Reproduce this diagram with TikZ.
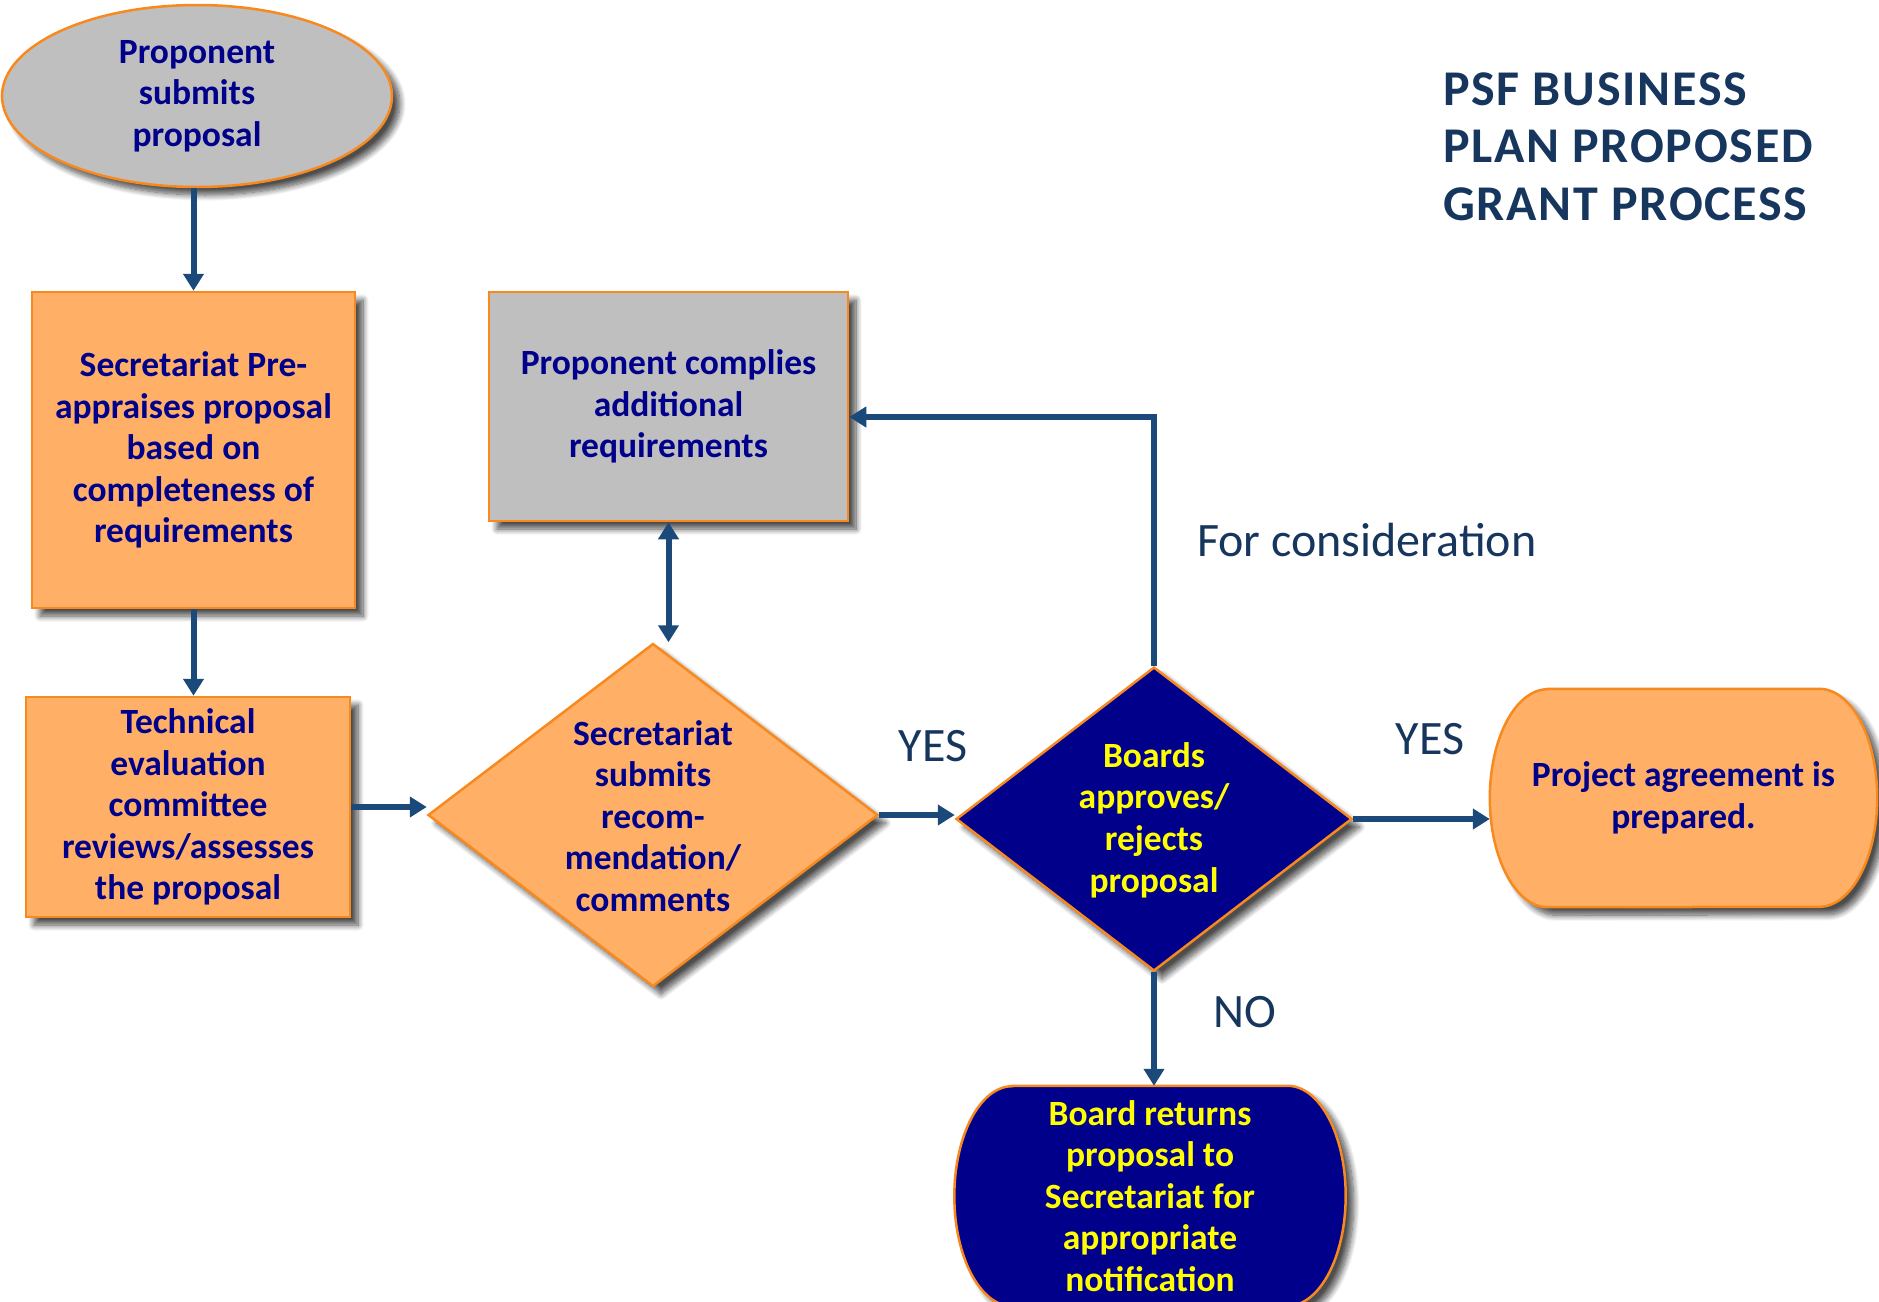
\documentclass[tikz,border=0pt]{standalone}
\usepackage{fontspec}
\setmainfont{Carlito}
\newfontfamily\titlefont[LetterSpace=3.5]{Carlito}
\usetikzlibrary{shapes.geometric,arrows.meta,shadows.blur,calc,backgrounds}
\definecolor{orfill}{HTML}{FFB066}
\definecolor{orline}{HTML}{F7891F}
\definecolor{grfill}{HTML}{BFBFBF}
\definecolor{navytxt}{HTML}{00008B}
\definecolor{navyfill}{HTML}{00008B}
\definecolor{arrowc}{HTML}{1B4A7A}
\definecolor{titlec}{HTML}{17365D}
\definecolor{yel}{HTML}{FFFF00}
\tikzset{
  shad/.style={blur shadow={shadow xshift=8pt, shadow yshift=-8pt, shadow blur radius=6pt, shadow blur steps=10, shadow opacity=70}},
  boxline/.style={draw=orline, line width=2.5pt},
  btext/.style={font=\fontsize{35.5}{41.6}\selectfont\bfseries, text=navytxt, align=center, inner sep=0pt},
  ytext/.style={font=\fontsize{35.5}{41.6}\selectfont\bfseries, text=yel, align=center, inner sep=0pt},
  orbox/.style={rectangle, boxline, fill=orfill, shad, btext},
  grbox/.style={rectangle, boxline, fill=grfill, shad, btext},
  ordiam/.style={diamond, boxline, fill=orfill, shad, inner sep=0pt},
  nvdiam/.style={diamond, boxline, fill=navyfill, shad, inner sep=0pt},
  lbl/.style={font=\fontsize{48}{56}\selectfont, text=titlec, inner sep=0pt},
  arr/.style={draw=arrowc, line width=6pt, -{Triangle[width=20pt,length=17pt]}},
  darr/.style={draw=arrowc, line width=6pt, {Triangle[width=20pt,length=17pt]}-{Triangle[width=20pt,length=17pt]}},
}
\begin{document}
\begin{tikzpicture}[x=1pt,y=-1pt]
\useasboundingbox (0,0) rectangle (1879,1301);
\clip (0,0) rectangle (1879,1301);

% title
\node[font=\titlefont\fontsize{50}{57.5}\selectfont\bfseries, text=titlec, align=left, anchor=base west, inner sep=0pt] (title) at (1443,220)
  {PSF BUSINESS\\PLAN PROPOSED\\GRANT PROCESS};

% nodes
\node[ellipse, boxline, fill=grfill, shad, btext, minimum width=390pt, minimum height=182pt] (ell) at (197,96)
  {Proponent\\submits\\proposal};
\node[orbox, minimum width=323pt, minimum height=316pt] (r1) at (193.5,450)
  {Secretariat Pre-\\appraises proposal\\based on\\completeness of\\requirements};
\node[orbox, minimum width=324pt, minimum height=220pt] (r2) at (188,807)
  {Technical\\evaluation\\committee\\reviews/assesses\\the proposal};
\node[grbox, minimum width=359pt, minimum height=229pt] (comply) at (668.5,406.5)
  {Proponent complies\\additional\\requirements};
\node[ordiam, minimum width=450pt, minimum height=343pt] (d1) at (653,815) {};
\node[btext] (d1t) at (653,816) {Secretariat\\submits\\recom-\\mendation/\\comments};
\node[nvdiam, minimum width=396pt, minimum height=304pt] (d2) at (1154,819) {};
\node[ytext] (d2t) at (1154,820) {Boards\\approves/\\rejects\\proposal};

\node[btext, minimum width=387pt, minimum height=218pt] (term) at (1683.5,798)
  {Project agreement is\\prepared.};
\node[ytext, minimum width=391pt, minimum height=220pt] (board) at (1150,1196)
  {Board returns\\proposal to\\Secretariat for\\appropriate\\notification};

\begin{scope}[on background layer]
\path[boxline, fill=orfill, shad]
  ($(term.north west)+(58,0)$) -- ($(term.north east)+(-58,0)$)
  arc[start angle=90, end angle=-90, x radius=58pt, y radius=109pt]
  -- ($(term.south west)+(58,0)$)
  arc[start angle=270, end angle=90, x radius=58pt, y radius=109pt] -- cycle;
\path[boxline, fill=navyfill, shad]
  ($(board.north west)+(58,0)$) -- ($(board.north east)+(-58,0)$)
  arc[start angle=90, end angle=-90, x radius=58pt, y radius=110pt]
  -- ($(board.south west)+(58,0)$)
  arc[start angle=270, end angle=90, x radius=58pt, y radius=110pt] -- cycle;
\end{scope}

% labels
\node[lbl, anchor=base] (yes1) at (933,761) {YES};
\node[lbl, anchor=base] (yes2) at (1430,754) {YES};
\node[lbl, anchor=base] (no) at (1245,1027) {NO};
\node[lbl, anchor=base west] (forc) at (1197,556) {For consideration};

% connectors
\coordinate (turn) at (1159,417);
\draw[arr] (r1.north |- ell.south) -- (r1.north);
\draw[arr] (r1.south) -- (r1.south |- r2.north);
\draw[arr] (r2.east) -- (r2.east -| d1.west);
\draw[darr] (comply.south) -- (comply.south |- d1.north);
\draw[arr] (d1.east) -- (d1.east -| d2.west);
\draw[arr] (d2.east) -- (d2.east -| term.west);
\draw[arr] (d2.north) -- (d2.north |- turn) -- (turn -| comply.east);
\draw[arr] (d2.south) -- (d2.south |- board.north);
\end{tikzpicture}
\end{document}
